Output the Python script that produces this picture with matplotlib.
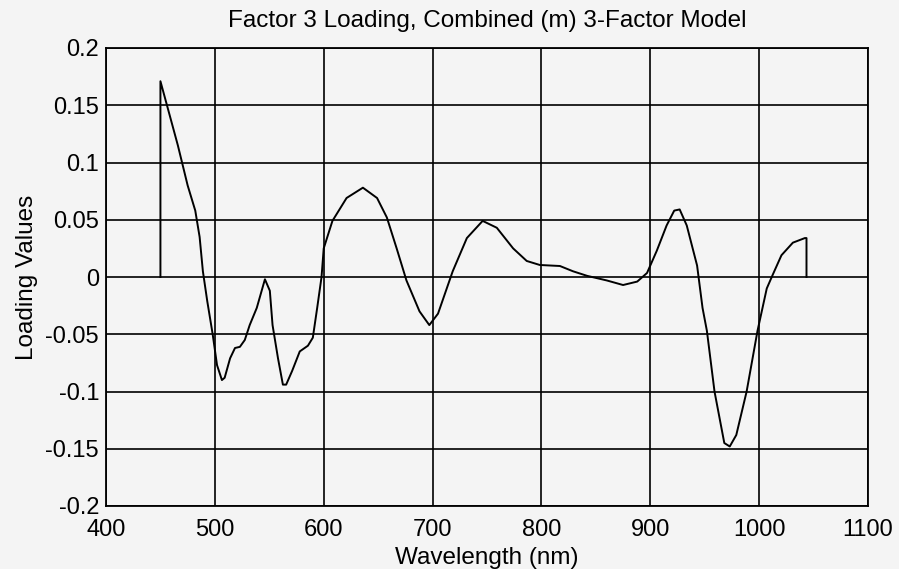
import matplotlib
matplotlib.use('Agg')
import matplotlib.pyplot as plt

plt.rcParams['font.family'] = ['Liberation Sans', 'DejaVu Sans']

# wavelength (nm) and factor-3 loading values
wavelength = [450, 450, 456, 466, 475, 482, 486, 489, 493, 498, 502, 506.5, 509,
              514, 518.5, 523, 527.5, 532, 538.5, 546, 550.5, 553, 558, 562.5,
              565.5, 571, 578, 585.5, 590, 594, 598, 600, 608, 621, 636, 649,
              658, 667, 676, 688, 697, 705, 718.5, 731.5, 746, 759, 774, 786.5,
              798.5, 817, 829, 842, 860, 875, 888, 897, 906, 915, 922, 927,
              933.5, 943, 948, 952, 959, 968, 973, 979, 988.5, 998.5, 1007,
              1012.5, 1020.5, 1031, 1042, 1043.5, 1043.5]
loading = [0.0, 0.171, 0.150, 0.115, 0.080, 0.058, 0.035, 0.005, -0.021, -0.050,
           -0.077, -0.090, -0.088, -0.071, -0.062, -0.061, -0.055, -0.042,
           -0.027, -0.002, -0.012, -0.042, -0.071, -0.094, -0.094, -0.082,
           -0.065, -0.060, -0.053, -0.027, 0.000, 0.025, 0.049, 0.069, 0.078,
           0.069, 0.052, 0.025, -0.003, -0.030, -0.042, -0.032, 0.005, 0.034,
           0.049, 0.043, 0.025, 0.014, 0.0105, 0.0096, 0.005, 0.001, -0.003,
           -0.007, -0.004, 0.0035, 0.023, 0.045, 0.058, 0.059, 0.045, 0.010,
           -0.027, -0.047, -0.100, -0.145, -0.148, -0.138, -0.100, -0.047,
           -0.010, 0.002, 0.019, 0.030, 0.034, 0.034, 0.0]

xticks = [400, 500, 600, 700, 800, 900, 1000, 1100]
yticks = [-0.2, -0.15, -0.1, -0.05, 0, 0.05, 0.1, 0.15, 0.2]
ytick_labels = ['-0.2', '-0.15', '-0.1', '-0.05', '0', '0.05', '0.1', '0.15', '0.2']

bg = '#f4f4f4'
fig = plt.figure(figsize=(8.99, 5.69), dpi=100, facecolor=bg)
ax = fig.add_axes([106 / 899, 63 / 569, 762 / 899, 458 / 569], facecolor=bg)

ax.plot(wavelength, loading, color='black', linewidth=1.4)

ax.set_xlim(400, 1100)
ax.set_ylim(-0.2, 0.2)
ax.set_xticks(xticks)
ax.set_yticks(yticks)
ax.set_yticklabels(ytick_labels)
ax.tick_params(length=0, labelsize=17, colors='black')
ax.tick_params(axis='x', pad=9)
ax.tick_params(axis='y', pad=5)
ax.grid(True, color='black', linewidth=1.2, linestyle='-')
for s in ax.spines.values():
    s.set_color('black')
    s.set_linewidth(1.3)

ax.set_title('Factor 3 Loading, Combined (m) 3-Factor Model', fontsize=17.5, pad=15)
ax.set_xlabel('Wavelength (nm)', fontsize=17.5, labelpad=5)
ax.set_ylabel('Loading Values', fontsize=17.5, labelpad=5)

fig.savefig('out.png', dpi=100, facecolor=bg)
